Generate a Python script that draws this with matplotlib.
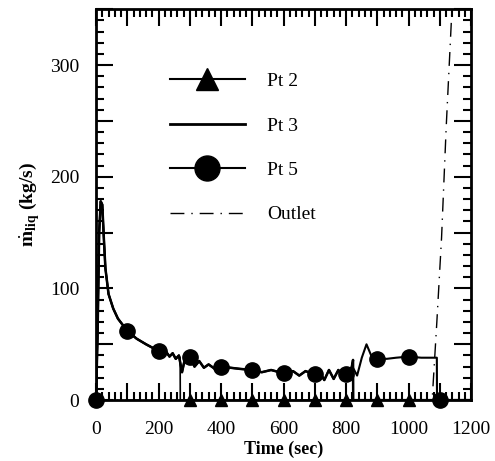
import numpy as np
import matplotlib.pyplot as plt
from matplotlib.lines import Line2D
from matplotlib.ticker import MultipleLocator, FuncFormatter

plt.rcParams['font.family'] = ['Liberation Serif', 'DejaVu Serif']
plt.rcParams['mathtext.fontset'] = 'custom'
plt.rcParams['mathtext.rm'] = 'Liberation Serif'
plt.rcParams['mathtext.bf'] = 'Liberation Serif:bold'

# ---- data ----
# Pt 5 : full curve until the dry-out at ~1090 s
t_pt5 = [0, 5, 10, 15, 20, 25, 30, 40, 55, 70, 100, 130, 160, 200, 215, 225, 235,
         245, 255, 265, 275, 285, 300, 315, 330, 345, 360, 380, 400, 430, 460, 500,
         530, 560, 600, 630, 650, 670, 700, 715, 730, 745, 760, 775, 790, 805, 820,
         835, 850, 865, 880, 900, 930, 960, 1000, 1040, 1090, 1090.5, 1200]
v_pt5 = [0, 60, 150, 178, 175, 145, 118, 95, 82, 73, 62, 55, 50, 44, 41, 43, 39,
         42, 37, 40, 25, 38, 39, 30, 35, 29, 32, 28, 30, 29, 28, 27,
         25, 27, 24, 26, 22, 26, 23, 25, 18, 27, 19, 27, 20, 24, 30,
         22, 38, 50, 40, 37, 37, 38, 39, 38, 38, 0, 0]

# Pt 3 : same flow until it dries out at ~822 s
t_pt3 = [0, 5, 10, 15, 20, 25, 30, 40, 55, 70, 100, 130, 160, 200, 215, 225, 235,
         245, 255, 265, 275, 285, 300, 315, 330, 345, 360, 380, 400, 430, 460, 500,
         530, 560, 600, 630, 650, 670, 700, 715, 730, 745, 760, 775, 790, 805, 818,
         822, 822.5, 1200]
v_pt3 = [0, 60, 150, 178, 175, 145, 118, 95, 82, 73, 62, 55, 50, 44, 41, 43, 39,
         42, 37, 40, 25, 38, 39, 30, 35, 29, 32, 28, 30, 29, 28, 27,
         25, 27, 24, 26, 22, 26, 23, 25, 18, 27, 19, 27, 20, 24, 30,
         36, 0, 0]

# Pt 2 : dries out at ~270 s
t_pt2 = [0, 5, 10, 15, 20, 25, 30, 40, 55, 70, 100, 130, 160, 200, 215, 225, 235,
         245, 255, 265, 269, 269.5, 1200]
v_pt2 = [0, 60, 150, 178, 175, 145, 118, 95, 82, 73, 62, 55, 50, 44, 41, 43, 39,
         42, 37, 40, 38, 0, 0]

# Outlet
t_out = [0, 1075, 1090, 1105, 1120, 1140]
v_out = [0, 0, 70, 145, 245, 360]

# marker positions
mk_pt2_t = [300, 400, 500, 600, 700, 800, 900, 1000]
mk_pt2_v = [0, 0, 0, 0, 0, 0, 0, 0]
mk_pt5_t = [0, 100, 200, 300, 400, 500, 600, 700, 800, 900, 1000, 1100]
mk_pt5_v = [0, 62, 44, 39, 30, 27, 24, 23, 23, 37, 39, 0]

fig = plt.figure(figsize=(4.95, 4.61), dpi=100)
ax = fig.add_axes([0.194, 0.132, 0.758, 0.848])

dashdot = (0, (10, 5, 1, 5))
ax.plot(t_out, v_out, color='black', lw=1.0, linestyle=dashdot)
ax.plot(t_pt2, v_pt2, color='black', lw=1.2)
ax.plot(t_pt3, v_pt3, color='black', lw=1.8)
ax.plot(t_pt5, v_pt5, color='black', lw=1.5)
ax.plot(mk_pt2_t, mk_pt2_v, linestyle='none', marker='^', color='black',
        markersize=8, clip_on=False, zorder=5)
ax.plot(mk_pt5_t, mk_pt5_v, linestyle='none', marker='o', color='black',
        markersize=11, clip_on=False, zorder=5)

ax.set_xlim(0, 1200)
ax.set_ylim(0, 350)

ax.xaxis.set_major_locator(MultipleLocator(100))
ax.xaxis.set_minor_locator(MultipleLocator(20))
ax.yaxis.set_major_locator(MultipleLocator(50))
ax.yaxis.set_minor_locator(MultipleLocator(10))
ax.xaxis.set_major_formatter(FuncFormatter(lambda v, p: f"{v:.0f}" if v % 200 == 0 else ""))
ax.yaxis.set_major_formatter(FuncFormatter(lambda v, p: f"{v:.0f}" if v % 100 == 0 else ""))
ax.tick_params(which='both', direction='in', top=True, right=True, width=1.5)
ax.tick_params(which='major', length=12, labelsize=14)
ax.tick_params(which='minor', length=6)
ax.tick_params(axis='x', which='major', pad=15)
ax.tick_params(axis='y', which='major', pad=12)
for s in ax.spines.values():
    s.set_linewidth(2)

ax.set_xlabel('Time (sec)', fontsize=13, fontweight='bold', labelpad=2)
ax.set_ylabel(r'$\dot{\mathbf{m}}_{\mathbf{liq}}$ (kg/s)', fontsize=14,
              fontweight='bold', labelpad=6)

handles = [
    Line2D([], [], color='black', lw=1.5, marker='^', markersize=16),
    Line2D([], [], color='black', lw=2.0),
    Line2D([], [], color='black', lw=1.5, marker='o', markersize=18),
    Line2D([], [], color='black', lw=1.0, linestyle=dashdot),
]
ax.legend(handles, ['Pt 2', 'Pt 3', 'Pt 5', 'Outlet'], loc='upper left',
          bbox_to_anchor=(0.197, 0.838), frameon=False, fontsize=14,
          handlelength=3.86, handletextpad=1.13, labelspacing=1.38,
          borderpad=0, borderaxespad=0)

fig.savefig('out.png', dpi=100)
